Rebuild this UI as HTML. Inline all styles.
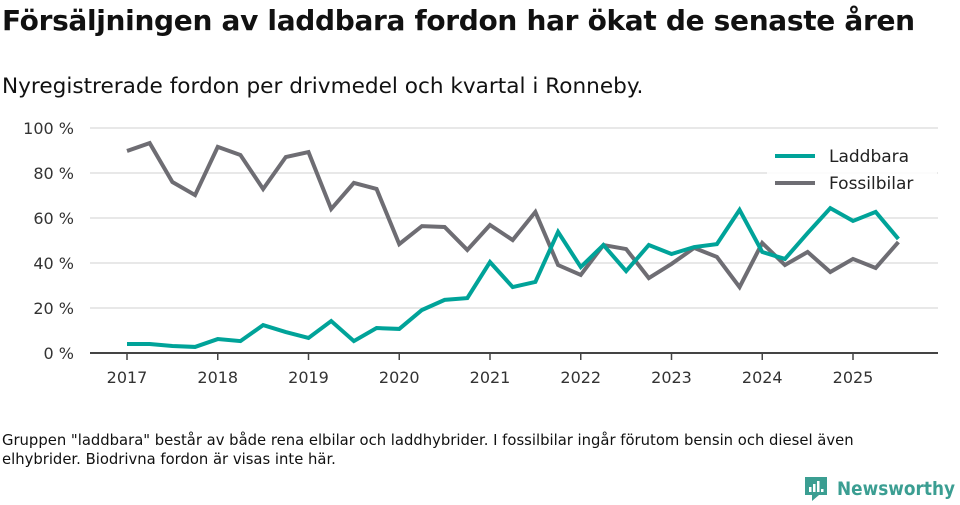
<!DOCTYPE html>
<html><head><meta charset="utf-8"><style>
body{margin:0;width:960px;height:505px;background:#fff;font-family:"DejaVu Sans","Liberation Sans",sans-serif;overflow:hidden;position:relative;color:#111}
.t{position:absolute;left:2px;top:4px;font-size:28px;font-weight:bold;letter-spacing:-0.32px}
.s{position:absolute;left:2px;top:74px;font-size:21.6px}
.n{position:absolute;left:2px;top:431px;font-size:14.8px;line-height:19px;width:905px}
svg{position:absolute;left:0;top:0}
</style></head><body>
<div class="t">Försäljningen av laddbara fordon har ökat de senaste åren</div>
<div class="s">Nyregistrerade fordon per drivmedel och kvartal i Ronneby.</div>
<svg width="960" height="505" id="c"></svg>
<div class="n">Gruppen "laddbara" består av både rena elbilar och laddhybrider. I fossilbilar ingår förutom bensin och diesel även elhybrider. Biodrivna fordon är visas inte här.</div>
<script>
const years=[2017,2018,2019,2020,2021,2022,2023,2024,2025];
const yTicks=[0,20,40,60,80,100];
const laddbara=[4,4,3.1,2.7,6.2,5.3,12.4,9.3,6.7,14.2,5.3,11.1,10.7,19.1,23.6,24.4,40.4,29.3,31.6,53.8,38.2,48,36.4,48,44,47.1,48.4,63.6,44.9,41.8,53.3,64.4,58.7,62.7,50.7];
const fossil=[89.8,93.3,76,70.2,91.6,88,72.9,87.1,89.3,64,75.6,72.9,48.4,56.4,56,45.8,56.9,50.2,62.7,39.1,34.7,48,46.2,33.3,39.6,46.7,42.7,29.3,48.9,39.1,44.9,36,41.8,37.8,49.3];
const NS="http://www.w3.org/2000/svg",svg=document.getElementById('c');
const X=t=>127+(t-2017)*90.75, Y=v=>353-v*2.25;
function mk(tag,a,p){const e=document.createElementNS(NS,tag);for(const k in a)e.setAttribute(k,a[k]);(p||svg).appendChild(e);return e;}
yTicks.forEach(v=>{
 if(v>0){const g=mk('line',{x1:90,x2:938,y1:Y(v),y2:Y(v),stroke:'#e0e0e0','stroke-width':1.5});
 
 }
 const t=mk('text',{x:74,y:Y(v)+6,'text-anchor':'end','font-size':16,fill:'#333'});t.textContent=v+' %';
 
 
});
const ax=mk('line',{x1:90,x2:938,y1:353,y2:353,stroke:'#444','stroke-width':2});


years.forEach(y=>{
 mk('line',{x1:X(y),x2:X(y),y1:353,y2:360,stroke:'#444','stroke-width':1.5});
 const t=mk('text',{x:X(y),y:383,'text-anchor':'middle','font-size':16,fill:'#333'});t.textContent=y;
 
 
});
function line(d,col,name){
 const p=mk('polyline',{points:d.map((v,i)=>X(2017+i/4)+','+Y(v)).join(' '),fill:'none',stroke:col,'stroke-width':4,'stroke-linejoin':'miter'});
 
 
}
line(fossil,'#6e6d73','fossilbilar-line');
line(laddbara,'#00a399','laddbara-line');
mk('rect',{x:767,y:140,width:170,height:62,fill:'#fff','fill-opacity':0.85});
[['Laddbara','#00a399',156],['Fossilbilar','#6e6d73',183]].forEach(([n,c,y])=>{
 const g=mk('g',{});
 
 
 mk('line',{x1:775,x2:815,y1:y,y2:y,stroke:c,'stroke-width':4},g);
 const t=mk('text',{x:829,y:y+6,'font-size':17,fill:'#222'},g);t.textContent=n;
});
const lg=mk('g',{});


mk('path',{d:'M805 477h22v18h-8l-7 6v-6h-7z',fill:'#3b9e92'},lg);
mk('rect',{x:809,y:487,width:2.5,height:5,fill:'#fff'},lg);
mk('rect',{x:813,y:484,width:2.5,height:8,fill:'#fff'},lg);
mk('rect',{x:817,y:481,width:2.5,height:11,fill:'#fff'},lg);
mk('rect',{x:821,y:489,width:2.5,height:3,fill:'#fff'},lg);
const lt=mk('text',{x:837,y:495,'font-size':19,'font-weight':'bold',fill:'#3b9e92',textLength:118,lengthAdjust:'spacingAndGlyphs'},lg);lt.textContent='Newsworthy';
</script>
</body></html>
